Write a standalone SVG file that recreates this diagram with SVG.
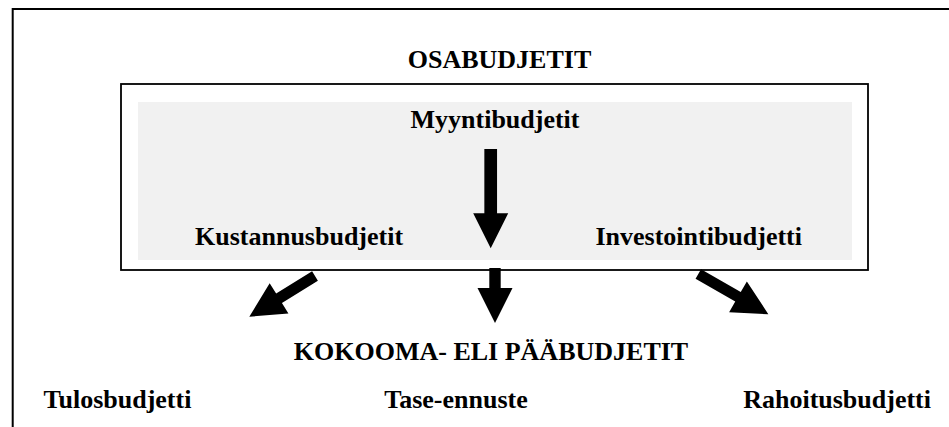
<svg xmlns="http://www.w3.org/2000/svg" width="949" height="427" viewBox="0 0 949 427">
  <style>
    .lbl { font-family: "Liberation Serif", "Times New Roman", serif; font-weight: bold; font-size: 26px; fill: #000; }
    .frame { fill: none; stroke: #000; stroke-width: 2; }
    .arrow { fill: #000; stroke: none; }
  </style>
  <rect x="0" y="0" width="949" height="427" fill="#fff"/>

  <!-- page frame: top and left edges -->
  <path class="frame" d="M12.7,427 V9 H949"/>

  <g id="osabudjetit">
    <text class="lbl" x="499.5" y="67.5" text-anchor="middle">OSABUDJETIT</text>
    <rect x="121" y="84" width="747" height="186" fill="#fff" stroke="#000" stroke-width="1.8"/>
    <rect x="138" y="102" width="714" height="158" fill="#f1f1f1"/>
  </g>

  <g id="myyntibudjetit">
    <text class="lbl" x="495" y="127.5" text-anchor="middle">Myyntibudjetit</text>
  </g>
  <g id="kustannusbudjetit">
    <text class="lbl" x="195" y="245" text-anchor="start">Kustannusbudjetit</text>
  </g>
  <g id="investointibudjetti">
    <text class="lbl" x="802" y="245" text-anchor="end">Investointibudjetti</text>
  </g>

  <g id="paabudjetit">
    <text class="lbl" x="491" y="360" text-anchor="middle">KOKOOMA- ELI PÄÄBUDJETIT</text>
  </g>
  <g id="tulosbudjetti">
    <text class="lbl" x="43.5" y="408.3" text-anchor="start">Tulosbudjetti</text>
  </g>
  <g id="tase-ennuste">
    <text class="lbl" x="456" y="408.3" text-anchor="middle">Tase-ennuste</text>
  </g>
  <g id="rahoitusbudjetti">
    <text class="lbl" x="931" y="408.3" text-anchor="end">Rahoitusbudjetti</text>
  </g>

  <!-- block arrows, drawn pointing along +x and rotated into place -->
  <g id="connectors">
    <polygon class="arrow" transform="translate(490.7,149) rotate(90)" points="0,-6.35 64.3,-6.35 64.3,-17.5 99.3,0 64.3,17.5 64.3,6.35 0,6.35"/>
    <polygon class="arrow" transform="translate(495,268) rotate(90)" points="0,-5.7 20,-5.7 20,-17.5 55,0 20,17.5 20,5.7 0,5.7"/>
    <polygon class="arrow" transform="translate(315,276) rotate(148.2)" points="0,-5.5 42.3,-5.5 42.3,-17.8 77.3,0 42.3,17.8 42.3,5.5 0,5.5"/>
    <polygon class="arrow" transform="translate(698.3,274) rotate(29.9)" points="0,-5.5 45.8,-5.5 45.8,-17.8 80.8,0 45.8,17.8 45.8,5.5 0,5.5"/>
  </g>
</svg>
